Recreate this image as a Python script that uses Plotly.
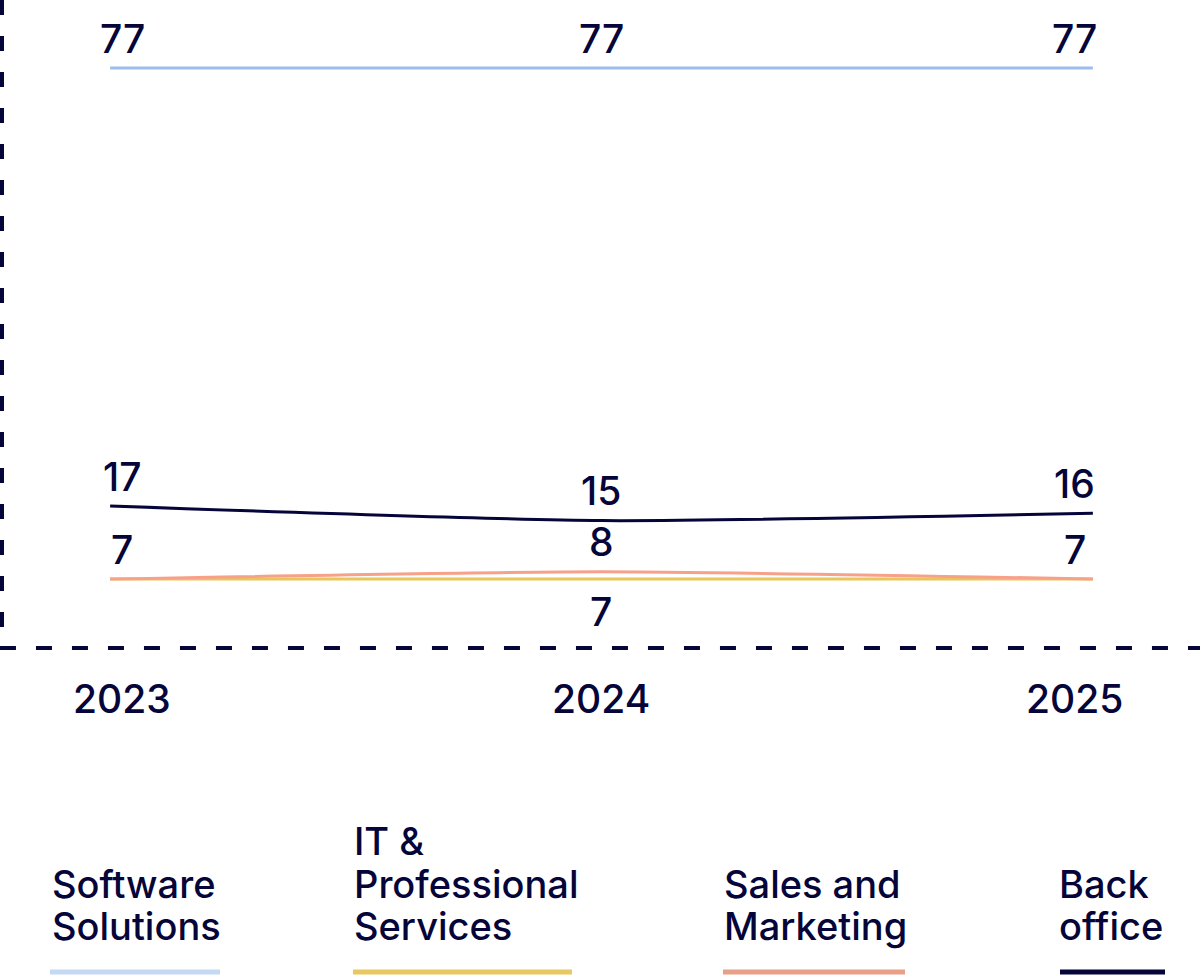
import plotly.graph_objects as go

years = [2023, 2024, 2025]
year_labels = ["2023", "2024", "2025"]

series_names = ["Software Solutions", "IT & Professional Services", "Sales and Marketing", "Back office"]
software = [77, 77, 77]
it_prof = [7, 7, 7]
sales = [7, 8, 7]
back_office = [17, 15, 16]

legend_lines = [["Software", "Solutions"], ["IT &", "Professional", "Services"],
                ["Sales and", "Marketing"], ["Back", "office"]]

INK = "#05053a"
FONT = "Inter"
line_colors = ["#9dbdf0", "#e9c65a", "#f7a18a", "#05053a"]
legend_colors = ["#c6d9f4", "#e8c860", "#e8a088", "#05053a"]
values = [software, it_prof, sales, back_office]
# label visibility per series/point: +1 above, -1 below, 0 hidden
label_mode = [[1, 1, 1], [0, -1, 0], [1, 1, 1], [1, 1, 1]]
xshifts = [12, 0, -18]

fig = go.Figure()
# draw order: software, back office, IT, sales on top
for i in [0, 3, 1, 2]:
    fig.add_trace(go.Scatter(
        x=years, y=values[i], mode="lines", name=series_names[i],
        line=dict(color=line_colors[i], width=3, shape="spline", smoothing=0.6),
        hoverinfo="skip", showlegend=False))

annotations = []
for i, vals in enumerate(values):
    for j, v in enumerate(vals):
        m = label_mode[i][j]
        if m == 0:
            continue
        annotations.append(dict(
            x=years[j], y=v, xref="x", yref="y", text=str(v), showarrow=False,
            xanchor="center", yanchor="middle", xshift=xshifts[j], yshift=31 * m - 1,
            font=dict(family=FONT, size=39, color=INK, weight=500)))

# x tick labels
for j, lab in enumerate(year_labels):
    annotations.append(dict(
        x=years[j], y=0, xref="x", yref="paper", text=lab, showarrow=False,
        xanchor="center", yanchor="middle", xshift=xshifts[j], yshift=-50,
        font=dict(family=FONT, size=39, color=INK, weight=500)))

H_PLOT = 648.0
W_PLOT = 1198.0


def py(p):
    return (H_PLOT - p) / H_PLOT


def px(p):
    return (p - 2) / W_PLOT


legend_x = [50, 352, 722, 1057]
legend_line_x = [(50, 220), (353, 572), (723, 905), (1060, 1165)]
shapes = []
for k, lines in enumerate(legend_lines):
    n = len(lines)
    for li, txt in enumerate(lines):
        center = 926 - 42.5 * (n - 1 - li)
        annotations.append(dict(
            x=px(legend_x[k]), y=py(center), xref="paper", yref="paper", text=txt,
            showarrow=False, xanchor="left", yanchor="middle", align="left",
            font=dict(family=FONT, size=38, color=INK, weight=500)))
    x0, x1 = legend_line_x[k]
    shapes.append(dict(type="line", xref="paper", yref="paper",
                       x0=px(x0), x1=px(x1), y0=py(972), y1=py(972),
                       line=dict(color=legend_colors[k], width=5)))

# dashed axes
shapes.append(dict(type="line", xref="paper", yref="paper", x0=-0.0017, x1=1.001,
                   y0=0, y1=0, line=dict(color=INK, width=4, dash="16px,20px")))
shapes.append(dict(type="line", xref="paper", yref="paper", x0=0, x1=0,
                   y0=1.0, y1=0, line=dict(color=INK, width=4, dash="15px,21px")))

fig.update_layout(
    width=1200, height=976,
    margin=dict(l=2, r=0, t=0, b=328, pad=0),
    paper_bgcolor="white", plot_bgcolor="white",
    xaxis=dict(range=[2022.780, 2025.218], showgrid=False, zeroline=False,
               showticklabels=False, showline=False, fixedrange=True),
    yaxis=dict(range=[-2.45, 86.32], showgrid=False, zeroline=False,
               showticklabels=False, showline=False, fixedrange=True),
    annotations=annotations, shapes=shapes, showlegend=False,
    font=dict(family=FONT, color=INK),
)

fig.write_html("out.html", config={"displayModeBar": False},
               post_script="document.body.style.margin='0';document.body.style.overflow='hidden';")
